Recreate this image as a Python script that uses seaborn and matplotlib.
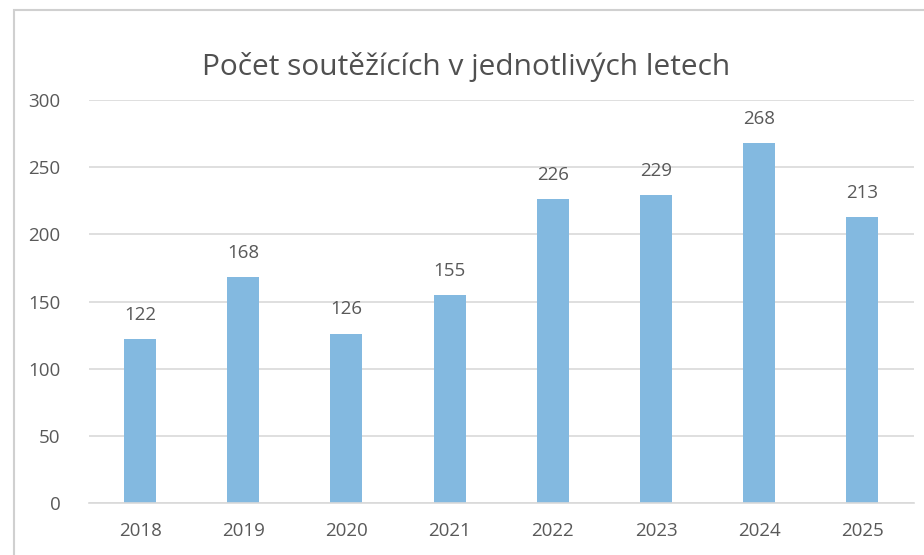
import matplotlib
matplotlib.use("Agg")
import matplotlib.pyplot as plt
import pandas as pd
import seaborn as sns
from matplotlib.patches import Rectangle

years = ["2018", "2019", "2020", "2021", "2022", "2023", "2024", "2025"]
counts = [122, 168, 126, 155, 226, 229, 268, 213]
y_ticks = [0, 50, 100, 150, 200, 250, 300]
title = "Počet soutěžících v jednotlivých letech"

df = pd.DataFrame({"rok": years, "pocet": counts})

sns.set_theme(style="white")
plt.rcParams["font.family"] = ["Open Sans", "DejaVu Sans"]

text_grey = "#595959"
bar_color = "#83B9E0"

fig = plt.figure(figsize=(9.24, 5.55), dpi=100)
ax = fig.add_axes([0.0958, 0.0937, 0.8934, 0.7261])

sns.barplot(data=df, x="rok", y="pocet", color=bar_color, width=0.31,
            saturation=1, linewidth=0, ax=ax)

ax.set_ylim(0, 300)
ax.set_xlim(-0.5, 7.5)
ax.set_yticks(y_ticks)
ax.yaxis.grid(True, color="#D9D9D9", linewidth=1.2)
ax.set_axisbelow(True)
for s in ["top", "right", "left"]:
    ax.spines[s].set_visible(False)
ax.spines["bottom"].set_color("#D9D9D9")
ax.spines["bottom"].set_linewidth(1.2)
ax.tick_params(axis="both", length=0, labelsize=13.5, labelcolor=text_grey)
ax.tick_params(axis="y", pad=20)
ax.tick_params(axis="x", pad=14)
ax.set_xlabel("")
ax.set_ylabel("")

for container in ax.containers:
    ax.bar_label(container, padding=11, fontsize=13.5, color=text_grey)

fig.text(0.505, 0.879, title, ha="center", va="center", fontsize=21.5,
         color="#505050")

# chart frame (cropped on the right and bottom)
fig.patches.append(Rectangle((14 / 924, -0.05), 1.2, 1 - 10 / 555 + 0.05,
                             transform=fig.transFigure, fill=False,
                             edgecolor="#D0D0D0", linewidth=1.5))

fig.savefig("out.png", dpi=100)
